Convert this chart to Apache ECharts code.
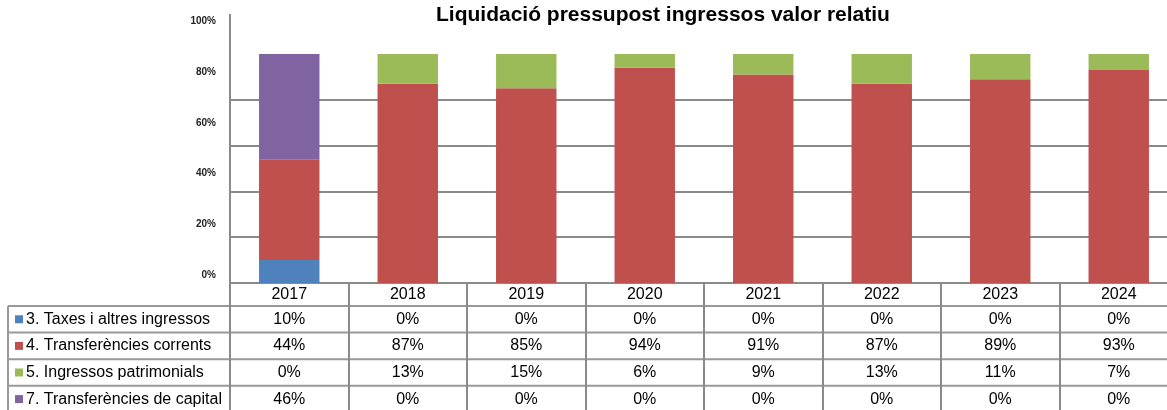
<!DOCTYPE html>
<html>
<head>
<meta charset="utf-8">
<script src="https://cdn.jsdelivr.net/npm/echarts@6/dist/echarts.min.js"></script>
<style>
html, body { margin: 0; padding: 0; background: #fff; overflow: hidden; }
#main { width: 1178px; height: 410px; }
</style>
</head>
<body>
<div id="main"></div>
<script>
var years = ['2017', '2018', '2019', '2020', '2021', '2022', '2023', '2024'];
var names = ['3. Taxes i altres ingressos', '4. Transferències corrents', '5. Ingressos patrimonials', '7. Transferències de capital'];
var colors = ['#4F81BD', '#C0504D', '#9BBB59', '#8064A2'];
var taxes = [10, 0, 0, 0, 0, 0, 0, 0];
var corrents = [44, 87, 85, 94, 91, 87, 89, 93];
var patrimonials = [0, 13, 15, 6, 9, 13, 11, 7];
var capital = [46, 0, 0, 0, 0, 0, 0, 0];
var yTicks = ['0%', '20%', '40%', '60%', '80%', '100%'];

var values = [taxes, corrents, patrimonials, capital];
var gridColor = '#8a8a8a';
var font = 'Liberation Sans, Arial, sans-serif';

// table layout (the last column is cut off by the window, as in the original)
var tableTop = 283, headH = 23, rowH = 26.6, tableLeft = 8, tableRight = 1178;

var myChart = echarts.init(document.getElementById('main'));

var graphics = [];
// vertical axis line
graphics.push({type: 'line', shape: {x1: 230, y1: 14, x2: 230, y2: tableTop}, style: {stroke: gridColor, lineWidth: 2}});
// table horizontal lines + row labels
for (var r = 0; r < 4; r++) {
    var y = tableTop + headH + r * rowH;
    graphics.push({type: 'line', shape: {x1: tableLeft, y1: y, x2: tableRight, y2: y}, style: {stroke: '#999', lineWidth: 2}});
    graphics.push({type: 'rect', shape: {x: 15, y: y + rowH / 2 - 4, width: 8, height: 8}, style: {fill: colors[r]}});
    graphics.push({type: 'text', x: 26, y: y + rowH / 2, style: {text: names[r], font: '16px ' + font, fill: '#000', verticalAlign: 'middle'}});
}
graphics.push({type: 'line', shape: {x1: tableLeft, y1: tableTop + headH, x2: tableLeft, y2: 410}, style: {stroke: '#999', lineWidth: 2}});

option = {
    animation: false,
    title: {
        text: 'Liquidació pressupost ingressos valor relatiu',
        left: 431,
        top: 0,
        textStyle: {fontFamily: font, fontSize: 21, fontWeight: 'bold', color: '#000'}
    },
    grid: [
        {left: 230, top: 54, right: 0, height: 229},
        {left: 230, top: 21.7, right: 0, height: 253.3}
    ],
    xAxis: [
        {
            type: 'category',
            data: years,
            gridIndex: 0,
            axisLine: {lineStyle: {color: gridColor, width: 2}},
            axisTick: {show: true, length: 127, lineStyle: {color: gridColor, width: 2}},
            axisLabel: {
                margin: 0,
                interval: 0,
                formatter: function (v, i) {
                    var s = '{h|' + v + '}';
                    for (var k = 0; k < values.length; k++) {
                        s += '\n{c|' + values[k][i] + '%}';
                    }
                    return s;
                },
                rich: {
                    h: {fontFamily: font, fontSize: 16, color: '#000', lineHeight: headH},
                    c: {fontFamily: font, fontSize: 16, color: '#000', lineHeight: rowH}
                }
            }
        },
        {type: 'category', data: years, gridIndex: 1, show: false}
    ],
    yAxis: [
        {
            type: 'value',
            gridIndex: 0,
            min: 0,
            max: 100,
            interval: 20,
            axisLine: {show: false},
            axisLabel: {show: false},
            splitLine: {lineStyle: {color: [gridColor, gridColor, gridColor, gridColor, gridColor, 'rgba(0,0,0,0)'], width: 2}}
        },
        {
            type: 'category',
            gridIndex: 1,
            data: yTicks,
            boundaryGap: false,
            axisLine: {show: false},
            axisTick: {show: false},
            splitLine: {show: false},
            axisLabel: {
                margin: 14,
                fontFamily: font,
                fontSize: 10,
                fontWeight: 'bold',
                color: '#222'
            }
        }
    ],
    series: names.map(function (n, i) {
        return {
            name: n,
            type: 'bar',
            stack: 'total',
            xAxisIndex: 0,
            yAxisIndex: 0,
            barWidth: '51%',
            itemStyle: {color: colors[i]},
            data: values[i]
        };
    }),
    graphic: graphics
};
myChart.setOption(option);
</script>
</body>
</html>
